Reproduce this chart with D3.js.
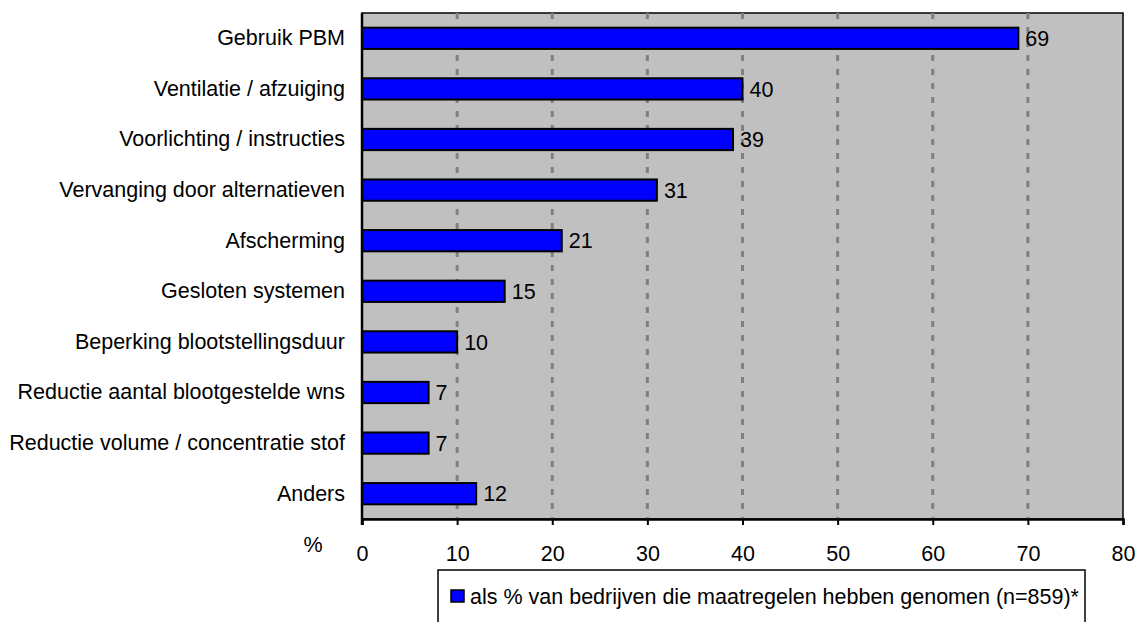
<!DOCTYPE html>
<html>
<head>
<meta charset="utf-8">
<script src="https://cdn.jsdelivr.net/npm/d3@7"></script>
<style>
  body { margin: 0; background: #fff; }
  svg text { font-family: "Liberation Sans", Arial, sans-serif; fill: #000; }
</style>
</head>
<body>
<svg id="chart" width="1135" height="622"></svg>
<script>
// data
var categories = ["Gebruik PBM", "Ventilatie / afzuiging", "Voorlichting / instructies",
    "Vervanging door alternatieven", "Afscherming", "Gesloten systemen",
    "Beperking blootstellingsduur", "Reductie aantal blootgestelde wns",
    "Reductie volume / concentratie stof", "Anders"];
var values = [69, 40, 39, 31, 21, 15, 10, 7, 7, 12];
var xTicks = [0, 10, 20, 30, 40, 50, 60, 70, 80];
var seriesName = "als % van bedrijven die maatregelen hebben genomen (n=859)*";
var axisUnit = "%";

// layout
var plot = { left: 362, right: 1123, top: 13, bottom: 519 };
var fontSize = "21.5px";

var svg = d3.select("#chart");

var x = d3.scaleLinear().domain([0, 80]).range([plot.left, plot.right]);
var y = d3.scaleBand().domain(categories).range([plot.top, plot.bottom]).paddingInner(0.58).paddingOuter(0.29);

// plot background
svg.append("rect")
    .attr("x", plot.left).attr("y", plot.top)
    .attr("width", plot.right - plot.left).attr("height", plot.bottom - plot.top)
    .style("fill", "#c0c0c0")
    .style("stroke", "#000").style("stroke-width", 1.5);

// dashed gridlines
svg.selectAll(".grid")
    .data(xTicks.slice(1, -1))
    .enter()
    .append("line")
    .attr("x1", d => x(d)).attr("x2", d => x(d))
    .attr("y1", plot.top).attr("y2", plot.bottom)
    .style("stroke", "#808080")
    .style("stroke-width", 3)
    .style("stroke-dasharray", "6,8");

// bars
svg.selectAll(".bar")
    .data(values)
    .enter()
    .append("rect")
    .attr("x", x(0))
    .attr("y", (d, i) => y(categories[i]))
    .attr("width", d => x(d) - x(0))
    .attr("height", y.bandwidth())
    .style("fill", "#0000ff")
    .style("stroke", "#000").style("stroke-width", 2);

// value labels
svg.selectAll(".val")
    .data(values)
    .enter()
    .append("text")
    .attr("x", d => x(d) + 7)
    .attr("y", (d, i) => y(categories[i]) + y.bandwidth() / 2)
    .attr("dy", "0.36em")
    .style("font-size", fontSize)
    .text(d => d);

// category axis
var yAxis = d3.axisLeft(y).tickSize(0).tickPadding(17);
svg.append("g")
    .attr("transform", "translate(" + plot.left + ",0)")
    .call(yAxis)
    .call(g => g.select(".domain").attr("d", "M0," + (plot.top) + "V" + (plot.bottom + 6)).style("stroke", "#000").style("stroke-width", 2.5))
    .call(g => g.selectAll(".tick text").style("font-size", fontSize).style("font-family", "Liberation Sans, Arial, sans-serif").attr("fill", "#000"));

// value axis
var xAxis = d3.axisBottom(x).tickValues(xTicks).tickSize(6).tickPadding(21);
svg.append("g")
    .attr("transform", "translate(0," + plot.bottom + ")")
    .call(xAxis)
    .call(g => g.select(".domain").style("stroke", "#000").style("stroke-width", 2.5))
    .call(g => g.selectAll(".tick line").style("stroke", "#000").style("stroke-width", 2))
    .call(g => g.selectAll(".tick text").style("font-size", fontSize).style("font-family", "Liberation Sans, Arial, sans-serif").attr("fill", "#000"));

svg.append("text")
    .attr("x", 313).attr("y", 544)
    .attr("dy", "0.36em")
    .attr("text-anchor", "middle")
    .style("font-size", fontSize)
    .text(axisUnit);

// legend
var legend = svg.append("g").attr("transform", "translate(438,570)");
legend.append("rect")
    .attr("x", 0).attr("y", 0).attr("width", 647).attr("height", 70)
    .style("fill", "#fff").style("stroke", "#000").style("stroke-width", 1.5);
legend.append("rect")
    .attr("x", 13).attr("y", 20).attr("width", 13).attr("height", 12)
    .style("fill", "#0000ff").style("stroke", "#000").style("stroke-width", 1.5);
legend.append("text")
    .attr("x", 32).attr("y", 26)
    .attr("dy", "0.36em")
    .style("font-size", fontSize)
    .text(seriesName);
</script>
</body>
</html>
